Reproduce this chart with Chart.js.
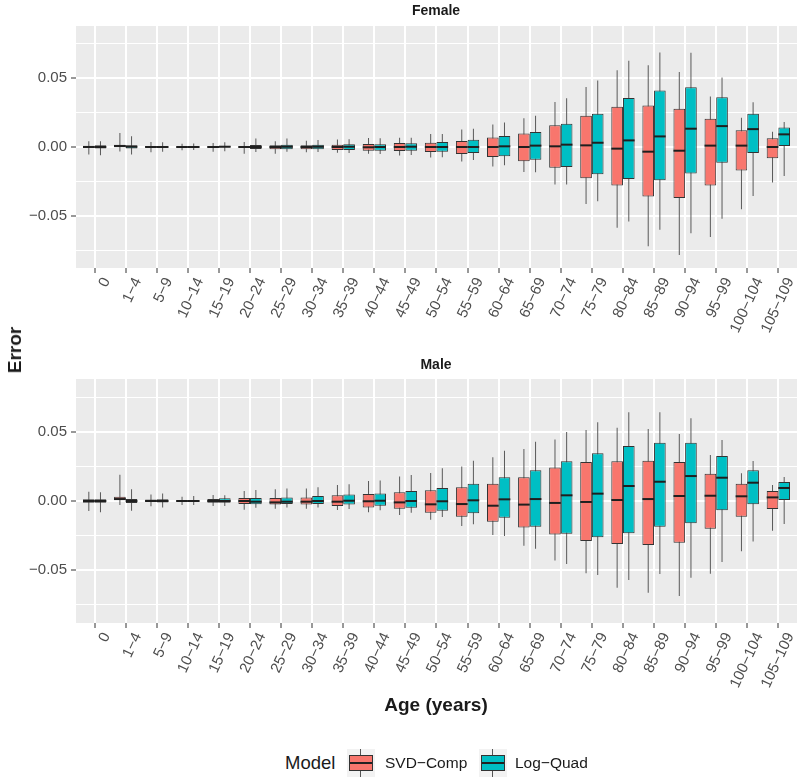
<!DOCTYPE html>
<html>
<head>
<meta charset="utf-8">
<script src="https://cdn.jsdelivr.net/npm/chart.js@4/dist/chart.umd.min.js"></script>
<style>
  body { margin: 0; background: #fff; }
  #wrap { position: relative; width: 800px; height: 780px; font-family: "Liberation Sans", Arial, sans-serif; color: #1a1a1a; }
  .pane { position: absolute; left: 0; }
  .txt { position: absolute; white-space: nowrap; }
  .strip { font-weight: bold; font-size: 14px; transform: translate(-50%, -50%); }
  .key { position: absolute; width: 28px; height: 28px; background: #f2f2f2; }
  .key .wh { position: absolute; left: 13px; top: 0; width: 1px; height: 28px; background: #555; }
  .key .bx { position: absolute; left: 2px; top: 6px; width: 22px; height: 14px; border: 1px solid #333; }
  .key .md { position: absolute; left: 3px; top: 13px; width: 22px; height: 2px; background: #222; }
</style>
</head>
<body>
<div id="wrap">
  <div class="pane" style="top:0"><canvas id="female" width="800" height="350"></canvas></div>
  <div class="pane" style="top:353px"><canvas id="male" width="800" height="350"></canvas></div>

  <div class="txt strip" style="left:436px;top:10px">Female</div>
  <div class="txt strip" style="left:436px;top:364px">Male</div>
  <div class="txt" style="left:15px;top:350px;font-weight:bold;font-size:19px;transform:translate(-50%,-50%) rotate(-90deg)">Error</div>
  <div class="txt" style="left:436px;top:705px;font-weight:bold;font-size:19px;transform:translate(-50%,-50%)">Age (years)</div>

  <div class="txt" style="left:285px;top:763px;font-size:18.5px;transform:translateY(-50%)">Model</div>
  <div class="key" style="left:347px;top:749px"><div class="wh"></div><div class="bx" style="background:#F8766D"></div><div class="md"></div></div>
  <div class="txt" style="left:385px;top:763px;font-size:15.5px;transform:translateY(-50%)">SVD−Comp</div>
  <div class="key" style="left:479px;top:749px"><div class="wh"></div><div class="bx" style="background:#00BFC4"></div><div class="md"></div></div>
  <div class="txt" style="left:515px;top:763px;font-size:15.5px;transform:translateY(-50%)">Log−Quad</div>
</div>

<script>
const ageGroups = ["0", "1−4", "5−9", "10−14", "15−19", "20−24", "25−29", "30−34", "35−39", "40−44", "45−49", "50−54",
	"55−59", "60−64", "65−69", "70−74", "75−79", "80−84", "85−89", "90−94", "95−99", "100−104", "105−109"];
const yTicks = [-0.075, -0.05, -0.025, 0, 0.025, 0.05, 0.075];

// Female, SVD-Comp
const fSvdLo  = [-0.0055, -0.0032, -0.0039, -0.0024, -0.0034, -0.0049, -0.0049, -0.0039, -0.0041, -0.0049, -0.0061, -0.0077, -0.0106, -0.0142, -0.0181, -0.0273, -0.0415, -0.0587, -0.0722, -0.0785, -0.0654, -0.0452, -0.0258];
const fSvdQ1  = [-0.0008, -0.0002, -0.0005, -0.0004, -0.0006, -0.0007, -0.0017, -0.0017, -0.0022, -0.0027, -0.0029, -0.0036, -0.0051, -0.0072, -0.0104, -0.0150, -0.0227, -0.0280, -0.0360, -0.0370, -0.0280, -0.0171, -0.0082];
const fSvdMed = [0, 0.0007, 0, 0, 0, 0, 0, 0, 0, -0.0002, 0, 0, 0, 0, 0, 0.0005, 0.0012, -0.0012, -0.0034, -0.0027, 0.0010, 0.0010, 0];
const fSvdQ3  = [0.0010, 0.0017, 0.0007, 0.0004, 0.0006, 0.0007, 0.0012, 0.0012, 0.0017, 0.0022, 0.0029, 0.0031, 0.0043, 0.0070, 0.0099, 0.0159, 0.0227, 0.0292, 0.0302, 0.0278, 0.0205, 0.0121, 0.0063];
const fSvdHi  = [0.0042, 0.0102, 0.0037, 0.0024, 0.0030, 0.0037, 0.0041, 0.0046, 0.0054, 0.0066, 0.0068, 0.0094, 0.0128, 0.0164, 0.0210, 0.0328, 0.0437, 0.0558, 0.0594, 0.0546, 0.0367, 0.0213, 0.0111];

// Female, Log-Quad
const fLqLo  = [-0.0060, -0.0054, -0.0035, -0.0022, -0.0030, -0.0037, -0.0034, -0.0037, -0.0044, -0.0051, -0.0059, -0.0075, -0.0094, -0.0133, -0.0184, -0.0273, -0.0394, -0.0541, -0.0601, -0.0628, -0.0522, -0.0357, -0.0210];
const fLqQ1  = [-0.0010, -0.0010, -0.0005, -0.0004, -0.0004, -0.0015, -0.0017, -0.0017, -0.0022, -0.0027, -0.0027, -0.0034, -0.0043, -0.0068, -0.0092, -0.0145, -0.0198, -0.0232, -0.0242, -0.0193, -0.0114, -0.0043, 0];
const fLqMed = [0, 0.0002, 0, 0, 0.0002, 0, 0.0002, 0.0002, 0.0002, 0, 0.0002, 0, 0, 0.0005, 0.0010, 0.0017, 0.0031, 0.0048, 0.0077, 0.0133, 0.0152, 0.0130, 0.0092];
const fLqQ3  = [0.0012, 0.0012, 0.0006, 0.0004, 0.0008, 0.0015, 0.0017, 0.0017, 0.0020, 0.0020, 0.0027, 0.0036, 0.0053, 0.0080, 0.0109, 0.0169, 0.0242, 0.0357, 0.0411, 0.0435, 0.0362, 0.0242, 0.0142];
const fLqHi  = [0.0042, 0.0078, 0.0035, 0.0026, 0.0034, 0.0061, 0.0061, 0.0051, 0.0056, 0.0063, 0.0068, 0.0094, 0.0133, 0.0179, 0.0227, 0.0355, 0.0483, 0.0628, 0.0688, 0.0686, 0.0505, 0.0326, 0.0181];

// Male, SVD-Comp
const mSvdLo  = [-0.0072, -0.0029, -0.0038, -0.0029, -0.0036, -0.0063, -0.0055, -0.0055, -0.0065, -0.0082, -0.0101, -0.0135, -0.0180, -0.0245, -0.0322, -0.0430, -0.0522, -0.0625, -0.0661, -0.0685, -0.0524, -0.0363, -0.0214];
const mSvdQ1  = [-0.0012, 0, -0.0007, -0.0005, -0.0012, -0.0022, -0.0026, -0.0026, -0.0036, -0.0046, -0.0055, -0.0084, -0.0113, -0.0149, -0.0192, -0.0241, -0.0289, -0.0310, -0.0317, -0.0301, -0.0200, -0.0113, -0.0058];
const mSvdMed = [0, 0.0014, 0, 0, 0, 0, -0.0010, -0.0005, -0.0005, -0.0002, -0.0010, -0.0024, -0.0022, -0.0034, -0.0026, -0.0014, -0.0007, 0.0007, 0.0014, 0.0036, 0.0038, 0.0034, 0.0026];
const mSvdQ3  = [0.0012, 0.0031, 0.0010, 0.0005, 0.0014, 0.0022, 0.0022, 0.0026, 0.0041, 0.0051, 0.0063, 0.0077, 0.0099, 0.0125, 0.0171, 0.0241, 0.0281, 0.0286, 0.0291, 0.0281, 0.0197, 0.0125, 0.0072];
const mSvdHi  = [0.0067, 0.0190, 0.0046, 0.0031, 0.0043, 0.0072, 0.0084, 0.0091, 0.0115, 0.0144, 0.0176, 0.0202, 0.0248, 0.0315, 0.0375, 0.0443, 0.0512, 0.0529, 0.0519, 0.0483, 0.0332, 0.0200, 0.0115];

// Male, Log-Quad
const mLqLo  = [-0.0082, -0.0070, -0.0046, -0.0029, -0.0036, -0.0048, -0.0046, -0.0046, -0.0058, -0.0067, -0.0084, -0.0115, -0.0168, -0.0253, -0.0344, -0.0455, -0.0534, -0.0570, -0.0527, -0.0553, -0.0440, -0.0293, -0.0166];
const mLqQ1  = [-0.0012, -0.0014, -0.0010, -0.0005, -0.0012, -0.0024, -0.0022, -0.0022, -0.0026, -0.0034, -0.0048, -0.0070, -0.0089, -0.0120, -0.0185, -0.0236, -0.0262, -0.0233, -0.0185, -0.0161, -0.0067, -0.0024, 0];
const mLqMed = [0, 0, 0, 0, 0, -0.0005, -0.0005, 0, 0.0002, 0.0002, 0, -0.0002, 0.0005, 0.0012, 0.0014, 0.0041, 0.0053, 0.0108, 0.0139, 0.0180, 0.0168, 0.0132, 0.0094];
const mLqQ3  = [0.0012, 0.0014, 0.0012, 0.0005, 0.0019, 0.0022, 0.0026, 0.0036, 0.0046, 0.0055, 0.0072, 0.0094, 0.0125, 0.0171, 0.0221, 0.0286, 0.0344, 0.0397, 0.0421, 0.0421, 0.0325, 0.0221, 0.0137];
const mLqHi  = [0.0063, 0.0084, 0.0055, 0.0036, 0.0041, 0.0079, 0.0091, 0.0099, 0.0120, 0.0147, 0.0188, 0.0236, 0.0291, 0.0363, 0.0428, 0.0498, 0.0568, 0.0640, 0.0640, 0.0596, 0.0440, 0.0289, 0.0173];

const RED = "#F8766D", CYAN = "#00BFC4";

Chart.defaults.font.family = '"Liberation Sans", Arial, sans-serif';

const isMajor = (v) => Math.abs(Math.round(v / 0.05) * 0.05 - v) < 1e-9;
const pairs = (a, b) => a.map((v, i) => ({ x: i, y: [v, b[i]] }));

// grey panel background
const panelBg = {
	id: "panelBg",
	beforeDraw(chart) {
		const { ctx, chartArea: a } = chart;
		ctx.save();
		ctx.fillStyle = "#EBEBEB";
		ctx.fillRect(a.left, a.top, a.right - a.left, a.bottom - a.top);
		ctx.restore();
	},
};

// median lines on top of the boxes
const medians = {
	id: "medians",
	afterDatasetsDraw(chart) {
		const { ctx } = chart;
		const y = chart.scales.y;
		ctx.save();
		ctx.strokeStyle = "#1f1f1f";
		ctx.lineWidth = 2;
		chart.data.datasets.forEach((ds, di) => {
			if (!ds.medians) return;
			chart.getDatasetMeta(di).data.forEach((el, i) => {
				const py = y.getPixelForValue(ds.medians[i]);
				ctx.beginPath();
				ctx.moveTo(el.x - el.width / 2, py);
				ctx.lineTo(el.x + el.width / 2, py);
				ctx.stroke();
			});
		});
		ctx.restore();
	},
};

function panel(id, s, xHeight) {
	return new Chart(document.getElementById(id), {
		type: "bar",
		data: {
			datasets: [
				{ data: pairs(s.svdQ1, s.svdQ3), medians: s.svdMed, stack: "svd", order: 0,
					backgroundColor: RED, borderColor: "#333", borderWidth: 1, borderSkipped: false },
				{ data: pairs(s.lqQ1, s.lqQ3), medians: s.lqMed, stack: "lq", order: 0,
					backgroundColor: CYAN, borderColor: "#333", borderWidth: 1, borderSkipped: false },
				{ data: pairs(s.svdLo, s.svdHi), stack: "svd", order: 1, maxBarThickness: 1, backgroundColor: "#595959" },
				{ data: pairs(s.lqLo, s.lqHi), stack: "lq", order: 1, maxBarThickness: 1, backgroundColor: "#595959" },
			],
		},
		options: {
			responsive: false,
			animation: false,
			categoryPercentage: 0.75,
			barPercentage: 1,
			layout: { padding: { top: 26, right: 3, left: 0, bottom: 0 } },
			plugins: { legend: { display: false }, tooltip: { enabled: false } },
			scales: {
				x: {
					type: "linear",
					offset: false,
					min: -0.6,
					max: 22.6,
					afterBuildTicks: (sc) => { sc.ticks = ageGroups.map((_, i) => ({ value: i })); },
					afterFit: (sc) => { sc.height = xHeight; },
					border: { display: false },
					grid: { offset: false, color: "#fff", lineWidth: 2, tickLength: 5, tickColor: "#333", tickWidth: 1 },
					ticks: {
						autoSkip: false,
						minRotation: 65,
						maxRotation: 65,
						labelOffset: 12,
						padding: 2,
						color: "#4D4D4D",
						font: { size: 15 },
						callback: (v) => ageGroups[v],
					},
				},
				y: {
					stacked: false,
					min: -0.088,
					max: 0.088,
					afterBuildTicks: (sc) => { sc.ticks = yTicks.map((v) => ({ value: v })); },
					afterFit: (sc) => { sc.width = 76; },
					border: { display: false },
					grid: {
						color: "#fff",
						lineWidth: (c) => (isMajor(c.tick.value) ? 2 : 1),
						tickLength: 5,
						tickWidth: 1,
						tickColor: (c) => (isMajor(c.tick.value) ? "#333" : "rgba(0,0,0,0)"),
					},
					ticks: {
						padding: 4,
						color: "#4D4D4D",
						font: { size: 15 },
						callback: (v) => (isMajor(v) ? v.toFixed(2).replace("-", "−") : ""),
					},
				},
			},
		},
		plugins: [panelBg, medians],
	});
}

panel("female", {
	svdLo: fSvdLo, svdQ1: fSvdQ1, svdMed: fSvdMed, svdQ3: fSvdQ3, svdHi: fSvdHi,
	lqLo: fLqLo, lqQ1: fLqQ1, lqMed: fLqMed, lqQ3: fLqQ3, lqHi: fLqHi,
}, 82);

panel("male", {
	svdLo: mSvdLo, svdQ1: mSvdQ1, svdMed: mSvdMed, svdQ3: mSvdQ3, svdHi: mSvdHi,
	lqLo: mLqLo, lqQ1: mLqQ1, lqMed: mLqMed, lqQ3: mLqQ3, lqHi: mLqHi,
}, 80);
</script>
</body>
</html>
